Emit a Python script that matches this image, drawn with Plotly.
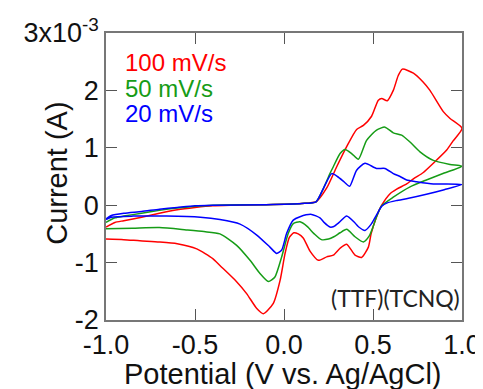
import plotly.graph_objects as go

# Potential (V vs Ag/AgCl) and current (mA), full loop: forward then reverse
red_v = [-1.0, -0.95, -0.9, -0.8, -0.7, -0.6, -0.5, -0.4, -0.3, -0.1, 0.1, 0.18, 0.24, 0.296, 0.352,
         0.408, 0.446, 0.492, 0.53, 0.549, 0.58, 0.614, 0.642, 0.665, 0.727, 0.78, 0.82, 0.895, 0.933, 1.0,
         0.95, 0.914, 0.839, 0.783, 0.727, 0.689, 0.633, 0.596, 0.549, 0.52, 0.49, 0.474, 0.436, 0.399,
         0.352, 0.315, 0.277, 0.24, 0.193, 0.146, 0.108, 0.08, 0.055, 0.03, 0.006, -0.022, -0.06, -0.116,
         -0.153, -0.21, -0.27, -0.36, -0.4, -0.49, -0.6, -0.7, -0.81, -0.9, -1.0]
red_i = [-0.38, -0.30, -0.27, -0.21, -0.14, -0.08, -0.04, -0.01, 0.0, 0.01, 0.03, 0.06, 0.30, 0.67, 1.02,
         1.32, 1.39, 1.55, 1.83, 1.86, 1.82, 2.0, 2.26, 2.37, 2.30, 2.15, 2.0, 1.63, 1.51, 1.34,
         1.12, 0.96, 0.73, 0.57, 0.46, 0.37, 0.28, 0.20, 0.0, -0.2, -0.49, -0.73, -0.91, -0.87,
         -0.68, -0.75, -0.87, -0.90, -0.96, -0.80, -0.57, -0.50, -0.48, -0.56, -0.84, -1.31, -1.71, -1.89,
         -1.80, -1.54, -1.32, -1.05, -0.93, -0.76, -0.67, -0.64, -0.62, -0.60, -0.59]

green_v = [-1.0, -0.95, -0.9, -0.8, -0.7, -0.6, -0.5, -0.4, -0.1, 0.1, 0.18, 0.221, 0.258, 0.277, 0.315,
           0.343, 0.38, 0.418, 0.464, 0.52, 0.567, 0.614, 0.661, 0.708, 0.764, 0.839, 0.933, 1.0,
           0.9, 0.8, 0.708, 0.614, 0.549, 0.52, 0.5, 0.48, 0.446, 0.399, 0.352, 0.315, 0.28, 0.25,
           0.21, 0.17, 0.13, 0.09, 0.052, 0.024, -0.013, -0.051, -0.088, -0.135, -0.191, -0.266, -0.36,
           -0.45, -0.55, -0.7, -0.85, -1.0]
green_i = [-0.30, -0.22, -0.19, -0.14, -0.09, -0.05, -0.02, 0.0, 0.01, 0.03, 0.06, 0.29, 0.55, 0.67, 0.90,
           0.97, 0.90, 0.80, 1.13, 1.31, 1.36, 1.26, 1.22, 1.10, 0.93, 0.78, 0.71, 0.68,
           0.56, 0.44, 0.32, 0.14, -0.01, -0.2, -0.38, -0.53, -0.64, -0.55, -0.42, -0.48, -0.55, -0.59,
           -0.60, -0.50, -0.37, -0.29, -0.32, -0.49, -0.90, -1.25, -1.33, -1.19, -0.96, -0.70, -0.50,
           -0.46, -0.43, -0.39, -0.40, -0.41]

blue_v = [-1.0, -0.97, -0.9, -0.8, -0.7, -0.6, -0.5, -0.4, -0.1, 0.1, 0.18, 0.221, 0.268, 0.3, 0.34,
          0.369, 0.408, 0.455, 0.52, 0.567, 0.614, 0.652, 0.689, 0.745, 0.839, 1.0,
          0.9, 0.8, 0.7, 0.63, 0.58, 0.549, 0.52, 0.49, 0.455, 0.42, 0.399, 0.352, 0.31, 0.28, 0.258,
          0.225, 0.202, 0.155, 0.09, 0.052, 0.015, -0.013, -0.041, -0.079, -0.153, -0.247, -0.36, -0.47,
          -0.66, -0.85, -0.97, -1.0]
blue_i = [-0.24, -0.18, -0.14, -0.11, -0.07, -0.04, -0.01, 0.0, 0.01, 0.03, 0.06, 0.29, 0.55, 0.50, 0.40,
          0.33, 0.61, 0.73, 0.64, 0.64, 0.55, 0.50, 0.44, 0.41, 0.37, 0.36,
          0.27, 0.19, 0.12, 0.08, 0.04, -0.02, -0.17, -0.33, -0.44, -0.38, -0.31, -0.19, -0.30, -0.37, -0.38,
          -0.30, -0.22, -0.16, -0.20, -0.26, -0.49, -0.78, -0.84, -0.73, -0.52, -0.33, -0.25, -0.21,
          -0.19, -0.19, -0.21, -0.25]

series_names = ["100 mV/s", "50 mV/s", "20 mV/s"]
series_colors = ["#ff0000", "#169c16", "#0000ff"]

y_tickvals = [-2, -1, 0, 1, 2, 3]
y_ticktext = ["-2", "-1", "0", "1", "2", "3x10<sup>-3</sup>"]
x_tickvals = [-1.0, -0.5, 0.0, 0.5, 1.0]
x_ticktext = ["-1.0", "-0.5", "0.0", "0.5", "1.0"]
x_title = "Potential (V vs. Ag/AgCl)"
y_title = "Current (A)"
sample_label = "(TTF)(TCNQ)"

fig = go.Figure()
for v, i, name, col in zip([red_v, green_v, blue_v], [red_i, green_i, blue_i], series_names, series_colors):
    fig.add_trace(go.Scatter(x=v, y=i, mode="lines", name=name,
                             line=dict(color=col, width=1.5, shape="spline", smoothing=0.6)))

font = "Liberation Sans, Arial, sans-serif"
axis_common = dict(showgrid=False, zeroline=False, showline=True, mirror="ticks",
                   linecolor="#777777", linewidth=1.5, ticks="inside", ticklen=11,
                   tickcolor="#555555", tickwidth=1.2, automargin=False)
# the page body adds an 8px offset, so the figure is 8px smaller and margins shifted
fig.update_layout(
    width=475, height=381,
    margin=dict(l=98, r=21, t=25, b=69),
    paper_bgcolor="white", plot_bgcolor="white",
    showlegend=False,
    font=dict(family=font, color="#111111"),
    xaxis=dict(range=[-1.0, 1.0], tickvals=x_tickvals, ticktext=x_ticktext,
               tickfont=dict(size=27, family=font), **axis_common),
    yaxis=dict(range=[-2, 3], tickvals=y_tickvals, ticktext=y_ticktext,
               tickfont=dict(size=27, family=font), **axis_common),
)

fig.add_annotation(text=x_title, xref="paper", yref="paper", x=0.497, y=-0.188,
                   xanchor="center", yanchor="middle", showarrow=False,
                   font=dict(size=29, family=font, color="#111111"))
fig.add_annotation(text=y_title, xref="paper", yref="paper", x=-0.14, y=0.51,
                   xanchor="center", yanchor="middle", showarrow=False, textangle=-90,
                   font=dict(size=29, family=font, color="#111111"))

legend_y = [0.896, 0.806, 0.718]
for name, col, yy in zip(series_names, series_colors, legend_y):
    fig.add_annotation(text=name, xref="paper", yref="paper", x=0.048, y=yy,
                       xanchor="left", yanchor="middle", showarrow=False,
                       font=dict(size=24, color=col, family=font))

fig.add_annotation(text=sample_label, xref="paper", yref="paper", x=1.0, y=0.077,
                   xanchor="right", yanchor="middle", showarrow=False,
                   font=dict(size=23, color="#222222", family="Lato, Open Sans, sans-serif"))

fig.write_html("out.html")
